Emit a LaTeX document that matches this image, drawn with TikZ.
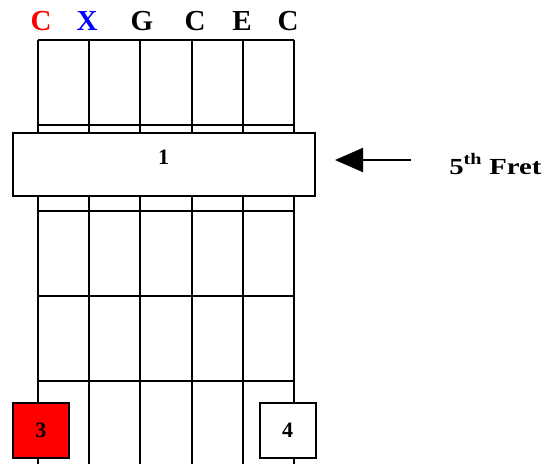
\documentclass[tikz,border=0pt]{standalone}
\usepackage{fontspec}
\setmainfont{Liberation Serif}
\usetikzlibrary{arrows.meta}

\begin{document}
\begin{tikzpicture}[x=1pt,y=-1pt,line width=2pt,
	note/.style={anchor=base,font=\fontsize{29}{29}\selectfont\bfseries},
	finger/.style={draw,inner sep=0,outer sep=0,minimum width=56pt,minimum height=55pt,font=\fontsize{22}{22}\selectfont\bfseries}]
	\useasboundingbox (0,0) rectangle (548,464);
	% strings
	\draw (38,40) -- (38,464);
	\draw (89.2,40) -- (89.2,464);
	\draw (140.4,40) -- (140.4,464);
	\draw (191.6,40) -- (191.6,464);
	\draw (242.8,40) -- (242.8,464);
	\draw (294,40) -- (294,464);
	% frets
	\draw (38,40) -- (294,40);
	\draw (38,125.3) -- (294,125.3);
	\draw (38,210.6) -- (294,210.6);
	\draw (38,295.9) -- (294,295.9);
	\draw (38,381.2) -- (294,381.2);
	% tuning
	\node[note,red] (c1) at (41,30.5) {C};
	\node[note,blue] (x2) at (87,30.5) {X};
	\node[note] (g3) at (142,30.5) {G};
	\node[note] (c4) at (195,30.5) {C};
	\node[note] (e5) at (242,30.5) {E};
	\node[note] (c6) at (288,30.5) {C};
	% fingers
	\node[finger,fill=white,minimum width=302pt,minimum height=63pt,text height=15pt,text depth=15pt] (barre) at (163.7,164.4) {1};
	\node[finger,fill=red] (f3) at (40.9,430.3) {3};
	\node[finger,fill=white] (f4) at (287.5,430.3) {4};
	% fret marker
	\node[anchor=base west,font=\fontsize{23}{23}\selectfont\bfseries,xscale=1.25,inner sep=0] (fret) at (448,174) {5\textsuperscript{th} Fret};
	\coordinate (tail) at (411,160);
	\coordinate (tip) at (335,160);
	\draw[-{Triangle[length=28pt,width=24pt]}] (tail) -- (tip);
\end{tikzpicture}
\end{document}
